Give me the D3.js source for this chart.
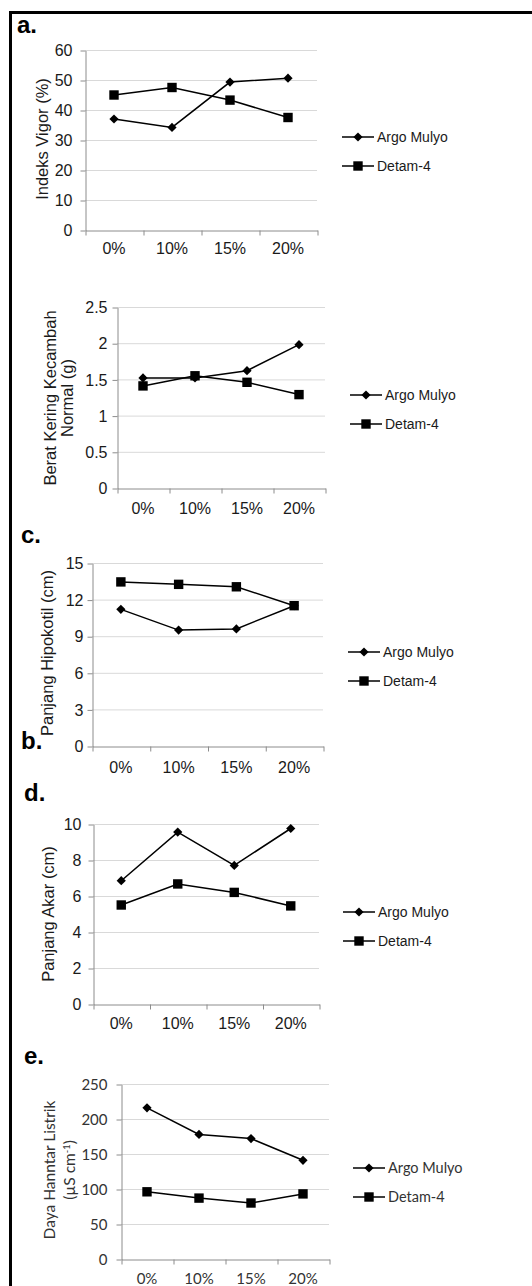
<!DOCTYPE html>
<html>
<head>
<meta charset="utf-8">
<script src="https://cdn.jsdelivr.net/npm/d3@7"></script>
<style>
  body { margin: 0; background: #fff; }
  svg { display: block; }
</style>
</head>
<body>
<div id="chart"></div>
<script>
// categories and series
var categories = ["0%", "10%", "15%", "20%"];
var seriesNames = ["Argo Mulyo", "Detam-4"];

// a. indeks vigor
var vigorArgo = [37.0, 34.2, 49.3, 50.6];
var vigorDetam = [45.0, 47.5, 43.3, 37.5];
var vigorTicks = [0, 10, 20, 30, 40, 50, 60];

// b. berat kering kecambah normal
var beratArgo = [1.52, 1.52, 1.62, 1.98];
var beratDetam = [1.41, 1.55, 1.46, 1.29];
var beratTicks = [0, 0.5, 1, 1.5, 2, 2.5];

// c. panjang hipokotil
var hipoArgo = [11.2, 9.5, 9.6, 11.5];
var hipoDetam = [13.45, 13.25, 13.05, 11.5];
var hipoTicks = [0, 3, 6, 9, 12, 15];

// d. panjang akar
var akarArgo = [6.85, 9.55, 7.7, 9.75];
var akarDetam = [5.5, 6.67, 6.2, 5.45];
var akarTicks = [0, 2, 4, 6, 8, 10];

// e. daya hantar listrik
var dhlArgo = [216, 178, 172, 141];
var dhlDetam = [96, 87, 80, 93];
var dhlTicks = [0, 50, 100, 150, 200, 250];

var width = 532, height = 1286;
var gridColor = "#d9d9d9", axisColor = "#8c8c8c";

var svg = d3.select("#chart")
    .append("svg")
    .attr("width", width)
    .attr("height", height);

// outer frame (only left and top edges are visible)
svg.append("path")
    .attr("d", "M10.5," + (height + 5) + "V12.5H" + (width + 5))
    .attr("fill", "none")
    .attr("stroke", "#000")
    .attr("stroke-width", 3);

// panel letters (the "b." sits low, as in the source figure)
var letters = [
    {t: "a.", x: 17, y: 33},
    {t: "c.", x: 21, y: 543},
    {t: "b.", x: 21, y: 749},
    {t: "d.", x: 24, y: 801},
    {t: "e.", x: 24, y: 1064}
];
svg.selectAll(".letter")
    .data(letters)
    .enter()
    .append("text")
    .attr("class", "letter")
    .attr("x", function(d){ return d.x; })
    .attr("y", function(d){ return d.y; })
    .attr("font-family", "Liberation Sans, Arial, sans-serif")
    .attr("font-weight", "bold")
    .attr("font-size", 24)
    .attr("fill", "#000")
    .text(function(d){ return d.t; });

var arial = "Liberation Sans, Arial, sans-serif";
var calibri = "Lato, Carlito, sans-serif";

var panels = [
    {argo: vigorArgo, detam: vigorDetam, ticks: vigorTicks, title: ["Indeks Vigor (%)"],
     left: 85, right: 317, top: 50, bottom: 230, pad: 8, xLab: 254,
     titleX: [42], titleY: 139, legX: 342, legY: 137, font: arial, size: 16, titleSize: 16.5, legSize: 14, color: "#1a1a1a"},
    {argo: beratArgo, detam: beratDetam, ticks: beratTicks, title: ["Berat Kering Kecambah", "Normal (g)"],
     left: 117, right: 325, top: 307, bottom: 488, pad: 5, xLab: 514,
     titleX: [50, 67], titleY: 398, legX: 350, legY: 395, font: arial, size: 16, titleSize: 16.5, legSize: 14, color: "#1a1a1a"},
    {argo: hipoArgo, detam: hipoDetam, ticks: hipoTicks, title: ["Panjang Hipokotil (cm)"],
     left: 92, right: 323, top: 563, bottom: 746, pad: 4, xLab: 773,
     titleX: [47], titleY: 653, legX: 348, legY: 652, font: arial, size: 16, titleSize: 16.5, legSize: 14, color: "#1a1a1a"},
    {argo: akarArgo, detam: akarDetam, ticks: akarTicks, title: ["Panjang Akar (cm)"],
     left: 93, right: 319, top: 824, bottom: 1004, pad: 7, xLab: 1029,
     titleX: [48], titleY: 914, legX: 343, legY: 912, font: arial, size: 16, titleSize: 16.5, legSize: 14, color: "#1a1a1a"},
    {argo: dhlArgo, detam: dhlDetam, ticks: dhlTicks, title: ["Daya Hanntar Listrik", "(µS cm|-1|)"],
     left: 121, right: 329, top: 1084, bottom: 1259, pad: 9, xLab: 1284,
     titleX: [50, 70], titleY: 1170, legX: 353, legY: 1168, font: calibri, size: 15, titleSize: 15.5, legSize: 14.5, color: "#333"}
];

panels.forEach(drawPanel);

function diamond(r){
    return "M0," + (-r) + "L" + r + ",0L0," + r + "L" + (-r) + ",0Z";
}

function drawMarker(sel, kind){
    if (kind === 0) {
        sel.append("path").attr("d", diamond(4.6)).attr("fill", "#000");
    } else {
        sel.append("rect").attr("x", -4.7).attr("y", -4.7)
            .attr("width", 9.4).attr("height", 9.4).attr("fill", "#000");
    }
}

function drawPanel(p){
    var x = d3.scaleBand().domain(categories).range([p.left, p.right]);
    var xEdge = d3.scaleLinear().domain([0, categories.length]).range([p.left, p.right]);
    var y = d3.scaleLinear().domain([0, d3.max(p.ticks)]).range([p.bottom, p.top]);

    var g = svg.append("g").attr("font-family", p.font);

    //gridlines
    g.append("g").selectAll("line")
        .data(p.ticks.slice(1))
        .enter()
        .append("line")
        .attr("x1", p.left).attr("x2", p.right)
        .attr("y1", function(d){ return y(d) + 0.5; })
        .attr("y2", function(d){ return y(d) + 0.5; })
        .attr("stroke", gridColor);

    //y axis
    var ya = g.append("g")
        .attr("transform", "translate(" + (p.left + 0.5) + ",0.5)")
        .call(d3.axisLeft(y).tickValues(p.ticks).tickSize(5).tickSizeOuter(0)
            .tickPadding(p.pad).tickFormat(function(d){ return String(d); }));
    ya.select(".domain").attr("stroke", axisColor);
    ya.selectAll(".tick line").attr("stroke", axisColor);
    ya.selectAll(".tick text").attr("font-size", p.size).attr("fill", p.color)
        .attr("font-family", p.font);

    //x axis with ticks between categories
    var xa = g.append("g")
        .attr("transform", "translate(0.5," + (p.bottom + 0.5) + ")")
        .call(d3.axisBottom(xEdge).tickValues(d3.range(categories.length + 1))
            .tickSize(5).tickSizeOuter(0).tickFormat(""));
    xa.select(".domain").attr("stroke", axisColor);
    xa.selectAll(".tick line").attr("stroke", axisColor);

    //category labels
    g.append("g").selectAll("text")
        .data(categories)
        .enter()
        .append("text")
        .attr("x", function(d){ return x(d) + x.bandwidth() / 2; })
        .attr("y", p.xLab)
        .attr("text-anchor", "middle")
        .attr("font-size", p.size)
        .attr("fill", p.color)
        .text(function(d){ return d; });

    //axis title (rotated)
    p.title.forEach(function(line, i){
        var t = g.append("text")
            .attr("transform", "translate(" + p.titleX[i] + "," + p.titleY + ") rotate(-90)")
            .attr("text-anchor", "middle")
            .attr("dy", "0.35em")
            .attr("font-size", p.titleSize)
            .attr("fill", p.color);
        var parts = line.split("|");
        parts.forEach(function(part, j){
            var ts = t.append("tspan").text(part);
            if (j === 1) ts.attr("baseline-shift", "super").attr("font-size", p.titleSize * 0.6);
        });
    });

    //series lines and markers
    var series = [p.argo, p.detam];
    var line = d3.line()
        .x(function(d, i){ return x(categories[i]) + x.bandwidth() / 2; })
        .y(function(d){ return y(d); });

    series.forEach(function(vals, k){
        g.append("path")
            .datum(vals)
            .attr("d", line)
            .attr("fill", "none")
            .attr("stroke", "#000")
            .attr("stroke-width", 1.5);
        var m = g.append("g").selectAll("g")
            .data(vals)
            .enter()
            .append("g")
            .attr("transform", function(d, i){
                return "translate(" + (x(categories[i]) + x.bandwidth() / 2) + "," + y(d) + ")";
            });
        drawMarker(m, k);
    });

    //legend
    seriesNames.forEach(function(name, k){
        var ly = p.legY + k * 29;
        var lg = g.append("g").attr("transform", "translate(" + p.legX + "," + ly + ")");
        lg.append("line").attr("x1", 0).attr("x2", 32).attr("y1", 0).attr("y2", 0)
            .attr("stroke", "#000").attr("stroke-width", 1.5);
        var mk = lg.append("g").attr("transform", "translate(16,0)");
        drawMarker(mk, k);
        lg.append("text")
            .attr("x", 35)
            .attr("dy", "0.35em")
            .attr("font-size", p.legSize)
            .attr("fill", p.color)
            .text(name);
    });
}
</script>
</body>
</html>
